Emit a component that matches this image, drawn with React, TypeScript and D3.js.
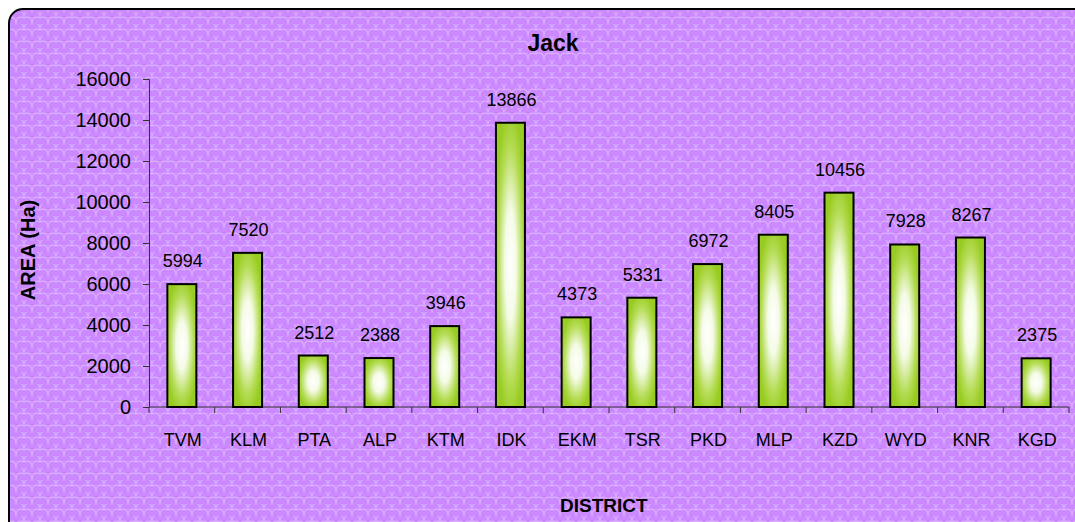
import React, { useEffect, useRef } from 'react';
import * as d3 from 'd3';

const districts = ['TVM', 'KLM', 'PTA', 'ALP', 'KTM', 'IDK', 'EKM', 'TSR', 'PKD', 'MLP', 'KZD', 'WYD', 'KNR', 'KGD'];
const areas = [5994, 7520, 2512, 2388, 3946, 13866, 4373, 5331, 6972, 8405, 10456, 7928, 8267, 2375];
const yTicks = [0, 2000, 4000, 6000, 8000, 10000, 12000, 14000, 16000];

const W = 1075;
const H = 522;

const App = () => {
    const svgRef = useRef<SVGSVGElement | null>(null);

    useEffect(() => {
        const svg = d3.select(svgRef.current);
        svg.selectAll('*').remove();
        const font = 'Arial, "Liberation Sans", sans-serif';

        const defs = svg.append('defs');

        // scalloped background pattern
        const pat = defs.append('pattern')
            .attr('id', 'scales')
            .attr('patternUnits', 'userSpaceOnUse')
            .attr('width', 16).attr('height', 12);
        pat.append('rect').attr('width', 16).attr('height', 12).attr('fill', '#cc88ff');
        pat.append('path')
            .attr('d', 'M0,12 C0,5 4,4 8,6 C12,4 16,5 16,12 M-8,6 C-8,-1 -4,-2 0,0 C4,-2 8,-1 8,6 C8,-1 12,-2 16,0 C20,-2 24,-1 24,6')
            .attr('fill', 'none')
            .attr('stroke', '#dab0ff')
            .attr('stroke-width', 1.2);

        const grad = defs.append('radialGradient')
            .attr('id', 'barGrad')
            .attr('cx', '50%').attr('cy', '50%').attr('r', '55%');
        grad.append('stop').attr('offset', '0%').attr('stop-color', '#ffffff');
        grad.append('stop').attr('offset', '35%').attr('stop-color', '#f4fbe6');
        grad.append('stop').attr('offset', '75%').attr('stop-color', '#b5dc55');
        grad.append('stop').attr('offset', '100%').attr('stop-color', '#99cc22');

        // chart frame
        svg.append('rect')
            .attr('x', 9).attr('y', 9)
            .attr('width', W + 20).attr('height', H + 20)
            .attr('rx', 14)
            .attr('fill', 'url(#scales)')
            .attr('stroke', '#000')
            .attr('stroke-width', 2);

        const x = d3.scaleBand<string>().domain(districts).range([149, 1069]);
        const y = d3.scaleLinear().domain([0, 16000]).range([407, 79]);
        const barW = 29;

        // axes
        const yAxis = svg.append('g').attr('transform', 'translate(149,0)')
            .call(d3.axisLeft(y).tickValues(yTicks).tickSize(6).tickPadding(12).tickFormat(d3.format('d')));
        yAxis.select('.domain').attr('stroke', '#333');
        yAxis.selectAll('.tick line').attr('stroke', '#333');
        yAxis.selectAll('.tick text')
            .style('font-family', font).style('font-size', '20px').attr('fill', '#000');

        const xAxis = svg.append('g').attr('transform', 'translate(0,407)');
        xAxis.append('line').attr('x1', 149).attr('x2', 1069).attr('stroke', '#333');
        const bounds = [...districts.map(d => x(d) as number), 1069];
        xAxis.selectAll('line.tk').data(bounds).enter().append('line')
            .attr('class', 'tk')
            .attr('x1', d => d).attr('x2', d => d)
            .attr('y1', 0).attr('y2', 6)
            .attr('stroke', '#333');
        xAxis.selectAll('text').data(districts).enter().append('text')
            .attr('x', d => (x(d) as number) + x.bandwidth() / 2 + 1)
            .attr('y', 39)
            .attr('text-anchor', 'middle')
            .style('font-family', font).style('font-size', '18px')
            .text(d => d);

        // bars
        svg.append('g').selectAll('rect').data(areas).enter().append('rect')
            .attr('x', (d, i) => (x(districts[i]) as number) + x.bandwidth() / 2 - barW / 2)
            .attr('y', d => y(d))
            .attr('width', barW)
            .attr('height', d => 407 - y(d))
            .attr('fill', 'url(#barGrad)')
            .attr('stroke', '#000')
            .attr('stroke-width', 2);

        svg.append('g').selectAll('text').data(areas).enter().append('text')
            .attr('x', (d, i) => (x(districts[i]) as number) + x.bandwidth() / 2 + 1)
            .attr('y', d => y(d) - 17)
            .attr('text-anchor', 'middle')
            .style('font-family', font).style('font-size', '18px')
            .text(d => d);

        // titles
        svg.append('text')
            .attr('x', 553).attr('y', 51)
            .attr('text-anchor', 'middle')
            .style('font-family', font).style('font-size', '23px').style('font-weight', 'bold')
            .text('Jack');
        svg.append('text')
            .attr('x', 560).attr('y', 512)
            .attr('text-anchor', 'start')
            .style('font-family', font).style('font-size', '19px').style('font-weight', 'bold')
            .text('DISTRICT');
        svg.append('text')
            .attr('transform', 'translate(35,250) rotate(-90)')
            .attr('text-anchor', 'middle')
            .style('font-family', font).style('font-size', '20px').style('font-weight', 'bold')
            .text('AREA (Ha)');
    }, []);

    return (
        <svg ref={svgRef} width={W} height={H}
            style={{ position: 'absolute', left: 0, top: 0, display: 'block' }} />
    );
};

export default App;
